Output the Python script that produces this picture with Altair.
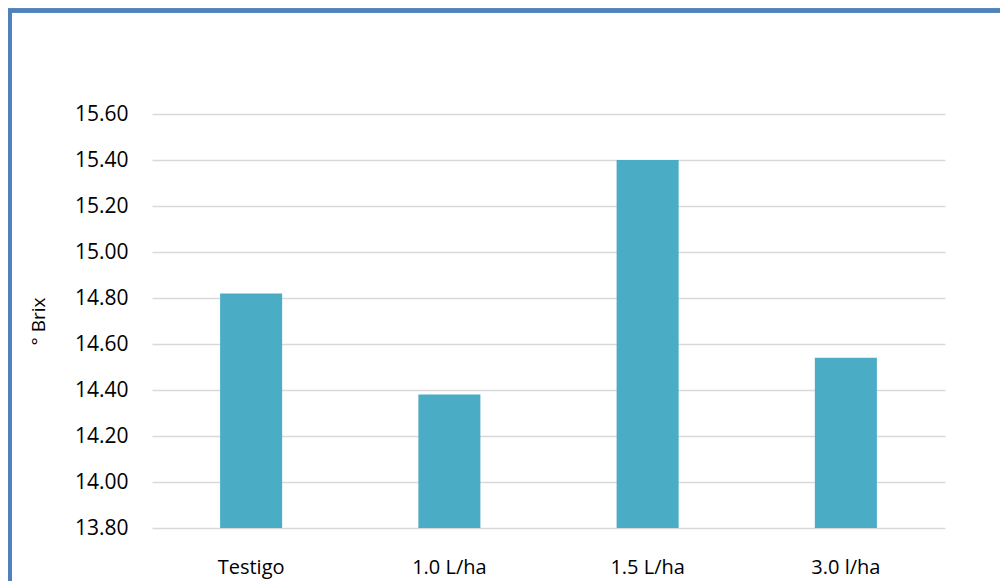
import altair as alt
import pandas as pd

# Sugar content (°Brix) per treatment
treatments = ["Testigo", "1.0 L/ha", "1.5 L/ha", "3.0 l/ha"]
brix = [14.82, 14.38, 15.40, 14.54]
y_ticks = [13.8, 14.0, 14.2, 14.4, 14.6, 14.8, 15.0, 15.2, 15.4, 15.6]

df = pd.DataFrame({"tratamiento": treatments, "brix": brix})

FONT = "Open Sans"

bars = alt.Chart(df).mark_bar(color="#4BACC6", clip=True).encode(
    x=alt.X(
        "tratamiento:N",
        sort=treatments,
        scale=alt.Scale(paddingInner=0.687, paddingOuter=0.3435),
        axis=alt.Axis(
            title=None, labelAngle=0, domain=False, ticks=False,
            labelPadding=29, labelFontSize=20, labelFont=FONT,
            labelColor="#000000",
        ),
    ),
    y=alt.Y(
        "brix:Q",
        scale=alt.Scale(domain=[13.8, 15.6], zero=False, nice=False),
        axis=alt.Axis(
            title="° Brix", values=y_ticks, format=".2f",
            domain=False, ticks=False, grid=True, gridColor="#D9D9D9",
            gridWidth=1.5, labelPadding=24, labelFontSize=21, labelFont=FONT,
            labelColor="#000000", titleFont=FONT, titleFontSize=19,
            titleFontWeight="normal", titleColor="#000000", titlePadding=26,
        ),
    ),
)

# Blue frame around the chart area
frame = alt.Chart(df).mark_rect(
    filled=False, stroke="#4F81BD", strokeWidth=4
).encode(
    x=alt.value(-142), x2=alt.value(860),
    y=alt.value(-103.5), y2=alt.value(490),
)

chart = alt.layer(frame, bars).properties(
    width=793,
    height=414,
    autosize=alt.AutoSizeParams(type="none"),
    padding={"left": 152, "top": 114, "right": 55, "bottom": 53},
    background="#FFFFFF",
).configure_view(stroke=None)

chart.save("out.html", embed_options={"renderer": "svg", "actions": False})
